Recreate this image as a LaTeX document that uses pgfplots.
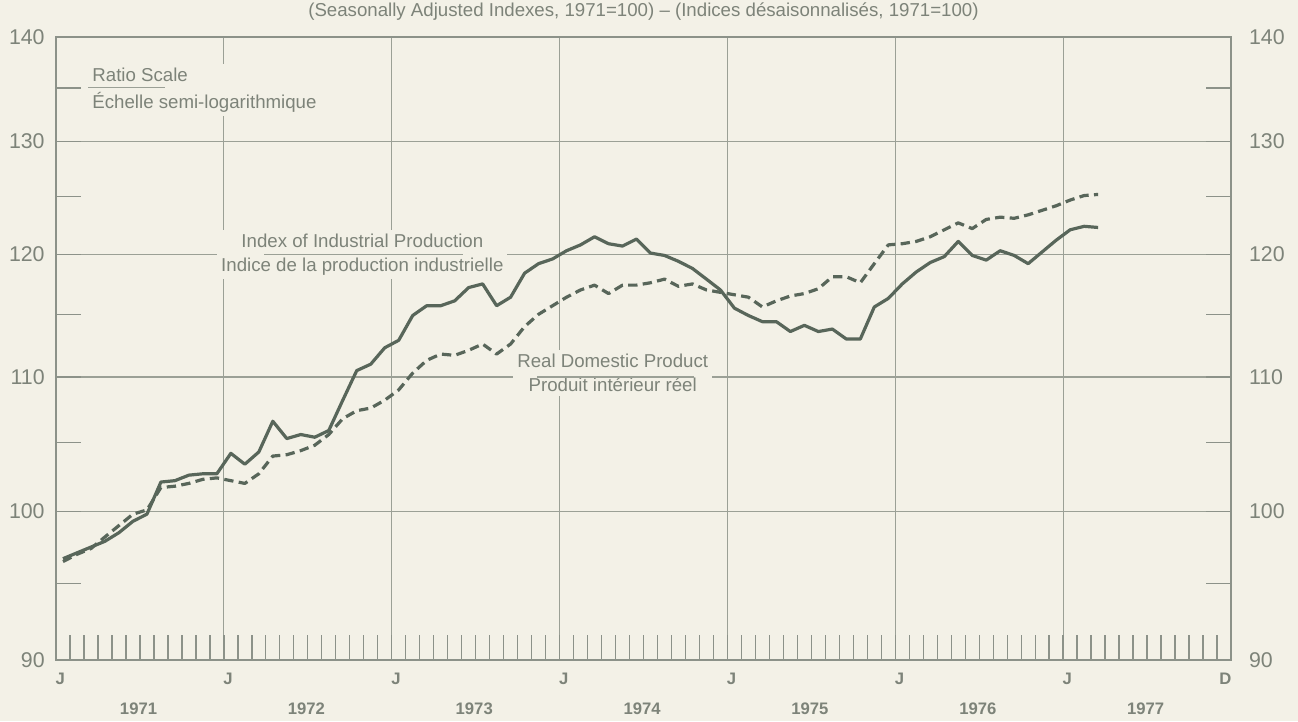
\documentclass[border=0pt]{standalone}
\usepackage{pgfplots}
\pgfplotsset{compat=1.18}
\usepackage{pgfplotstable}
\usepackage{fontspec}
\setmainfont{Liberation Sans}
\definecolor{bg}{HTML}{F3F1E7}
\definecolor{ink}{HTML}{58665A}
\definecolor{gridc}{HTML}{9BA096}
\definecolor{framec}{HTML}{8C9289}
\definecolor{txt}{HTML}{7D8379}

\pgfplotstableread{
t iip rdp
0.5 96.7 96.5
1.5 97.1 97.0
2.5 97.5 97.4
3.5 97.9 98.2
4.5 98.5 99.0
5.5 99.3 99.8
6.5 99.8 100.1
7.5 102.1 101.7
8.5 102.2 101.8
9.5 102.6 102.0
10.5 102.7 102.3
11.5 102.7 102.4
12.5 104.2 102.2
13.5 103.4 102.0
14.5 104.3 102.7
15.5 106.6 104.0
16.5 105.3 104.1
17.5 105.6 104.4
18.5 105.4 104.8
19.5 105.9 105.6
20.5 108.2 106.8
21.5 110.5 107.4
22.5 111.0 107.6
23.5 112.3 108.2
24.5 112.9 109.0
25.5 114.9 110.3
26.5 115.7 111.3
27.5 115.7 111.8
28.5 116.1 111.7
29.5 117.2 112.1
30.5 117.5 112.6
31.5 115.7 111.8
32.5 116.4 112.6
33.5 118.4 114.0
34.5 119.2 115.0
35.5 119.6 115.7
36.5 120.3 116.4
37.5 120.8 117.0
38.5 121.5 117.4
39.5 120.9 116.7
40.5 120.7 117.4
41.5 121.3 117.4
42.5 120.1 117.6
43.5 119.9 117.9
44.5 119.4 117.3
45.5 118.8 117.5
46.5 117.9 117.0
47.5 117.0 116.8
48.5 115.5 116.6
49.5 114.9 116.4
50.5 114.4 115.6
51.5 114.4 116.1
52.5 113.6 116.5
53.5 114.1 116.7
54.5 113.6 117.1
55.5 113.8 118.1
56.5 113.0 118.1
57.5 113.0 117.6
58.5 115.6 119.2
59.5 116.3 120.8
60.5 117.5 120.9
61.5 118.5 121.1
62.5 119.3 121.5
63.5 119.8 122.1
64.5 121.1 122.7
65.5 119.9 122.2
66.5 119.5 123.0
67.5 120.3 123.2
68.5 119.9 123.1
69.5 119.2 123.4
70.5 120.2 123.8
71.5 121.2 124.2
72.5 122.1 124.7
73.5 122.4 125.1
74.5 122.3 125.2
}\data

\newcommand{\lab}{\fontsize{14}{18}\selectfont}
\newcommand{\labr}{\fontsize{14}{20}\selectfont}
\newcommand{\tck}{\fontsize{16}{18}\selectfont}
\newcommand{\xl}{\fontsize{12.5}{14}\selectfont\bfseries}

\begin{document}
\begin{tikzpicture}
\fill[bg] (-42pt,-45.75pt) rectangle (931.5pt,495pt);
\begin{axis}[
  at={(0,0)}, anchor=south west,
  scale only axis, width=881.25pt, height=467.25pt,
  xmin=0, xmax=84, ymin=90, ymax=140, ymode=log,
  axis line style={framec, line width=1.1pt},
  xtick={0,12,24,36,48,60,72,84}, xticklabels={},
  minor xtick={1,...,83},
  xtick pos=bottom,
  ytick={90,100,110,120,130,140},
  yticklabels={90,100,110,120,130,140},
  minor ytick={95,105,115,125,135},
  ytick pos=both, yticklabel pos=left,
  grid=major,
  major grid style={gridc, line width=0.9pt},
  tick align=inside,
  major tick length=19pt, minor tick length=19pt,
  tick style={framec, line width=1pt},
  /pgf/number format/assume math mode=true,
  yticklabel style={font=\tck, text=txt, xshift=-5pt},
  clip=false,
]
% labels that interrupt the grid
\node[fill=bg, inner sep=3pt, align=left, anchor=west, font=\labr, text=txt]
  at (axis cs:2.3,134.8) {Ratio Scale\\Échelle semi-logarithmique};
\draw[gridc, line width=0.9pt] (axis cs:2.3,135.1) -- (axis cs:7.8,135.1);
\node[fill=bg, inner sep=3pt, align=center, font=\lab, text=txt]
  at (axis cs:21.9,120) {Index of Industrial Production\\Indice de la production industrielle};
\draw[gridc, line width=0.9pt] (axis cs:14.9,120) -- (axis cs:29.1,120);
\node[fill=bg, inner sep=3pt, align=center, font=\lab, text=txt]
  at (axis cs:39.8,110.3) {Real Domestic Product\\Produit intérieur réel};
\draw[gridc, line width=0.9pt] (axis cs:34.4,110) -- (axis cs:45.6,110);

\addplot[ink, line width=2.4pt, line join=round] table[x=t, y=iip] {\data};
\addplot[ink, line width=2.4pt, line join=round, dash pattern=on 7pt off 4pt] table[x=t, y=rdp] {\data};

% title
\node[font=\fontsize{14}{16}\selectfont, text=txt] at (rel axis cs:0.5,1) [yshift=19pt]
  {(Seasonally Adjusted Indexes, 1971=100) -- (Indices désaisonnalisés, 1971=100)};

% x labels
\node[font=\xl, text=txt] at (axis cs:0.3,90) [yshift=-14.5pt] {J};
\node[font=\xl, text=txt] at (axis cs:12.3,90) [yshift=-14.5pt] {J};
\node[font=\xl, text=txt] at (axis cs:24.3,90) [yshift=-14.5pt] {J};
\node[font=\xl, text=txt] at (axis cs:36.3,90) [yshift=-14.5pt] {J};
\node[font=\xl, text=txt] at (axis cs:48.3,90) [yshift=-14.5pt] {J};
\node[font=\xl, text=txt] at (axis cs:60.3,90) [yshift=-14.5pt] {J};
\node[font=\xl, text=txt] at (axis cs:72.3,90) [yshift=-14.5pt] {J};
\node[font=\xl, text=txt] at (axis cs:83.6,90) [yshift=-14.5pt] {D};
\node[font=\xl, text=txt] at (axis cs:5.9,90) [yshift=-37pt] {1971};
\node[font=\xl, text=txt] at (axis cs:17.9,90) [yshift=-37pt] {1972};
\node[font=\xl, text=txt] at (axis cs:29.9,90) [yshift=-37pt] {1973};
\node[font=\xl, text=txt] at (axis cs:41.9,90) [yshift=-37pt] {1974};
\node[font=\xl, text=txt] at (axis cs:53.9,90) [yshift=-37pt] {1975};
\node[font=\xl, text=txt] at (axis cs:65.9,90) [yshift=-37pt] {1976};
\node[font=\xl, text=txt] at (axis cs:77.9,90) [yshift=-37pt] {1977};
\end{axis}
\begin{axis}[
  at={(0,0)}, anchor=south west,
  scale only axis, width=881.25pt, height=467.25pt,
  xmin=0, xmax=84, ymin=90, ymax=140, ymode=log,
  axis x line=none, axis y line*=right,
  y axis line style={draw=none},
  ytick={90,100,110,120,130,140},
  yticklabels={90,100,110,120,130,140},
  ytick style={draw=none},
  major tick length=0pt,
  /pgf/number format/assume math mode=true,
  yticklabel style={font=\tck, text=txt, xshift=10pt},
]
\end{axis}
\pgfresetboundingbox
\path[use as bounding box] (-42pt,-45.75pt) rectangle (931.5pt,495pt);
\end{tikzpicture}
\end{document}
